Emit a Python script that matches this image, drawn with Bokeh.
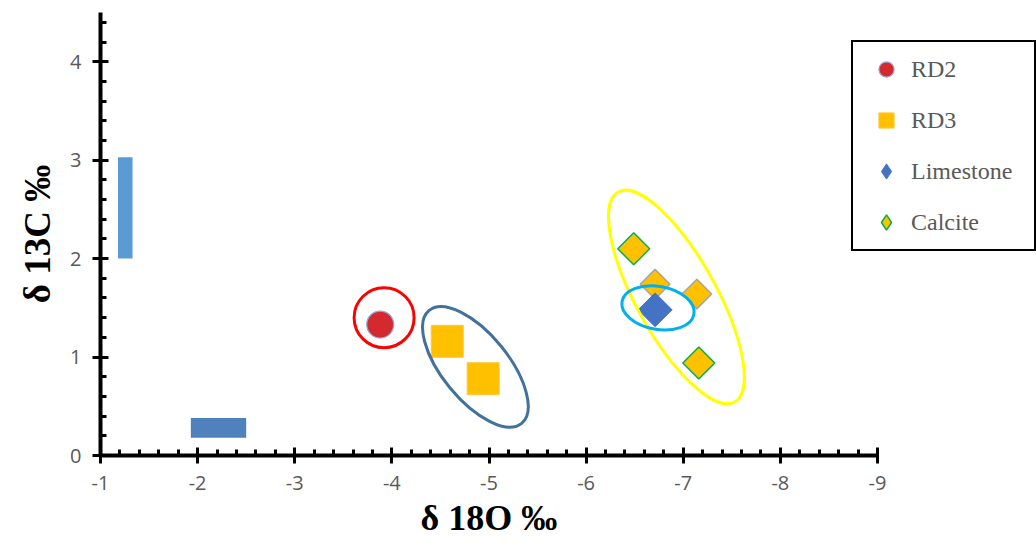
import math
from bokeh.plotting import figure
from bokeh.models import Range1d, FixedTicker, Legend, LegendItem, Title
from bokeh.embed import file_html
from bokeh.resources import INLINE

# ---------------- data ----------------
x_ticks = [-1, -2, -3, -4, -5, -6, -7, -8, -9]
x_tick_labels = ["-1", "-2", "-3", "-4", "-5", "-6", "-7", "-8", "-9"]
y_ticks = [0, 1, 2, 3, 4]
y_tick_labels = ["0", "1", "2", "3", "4"]
x_axis_min, x_axis_max = -1, -9
y_axis_min, y_axis_max = 0, 4.5

rd2_x = [-3.88]
rd2_y = [1.33]
rd3_x = [-4.57, -4.94]
rd3_y = [1.16, 0.78]
limestone_x = [-6.71]
limestone_y = [1.48]
calcite_x = [-6.49, -7.16]
calcite_y = [2.10, 0.94]
other_x = [-6.71, -7.14]
other_y = [1.74, 1.64]

# reference ranges (bars)
bar_left = [-1.18, -1.93]
bar_right = [-1.33, -2.50]
bar_bottom = [2.00, 0.18]
bar_top = [3.03, 0.38]

# group outlines (centres)
group_x = [-3.92, -4.86, -6.93, -6.74]
group_y = [1.40, 0.90, 1.61, 1.50]

series_names = ["RD2", "RD3", "Limestone", "Calcite"]

# ---------------- figure ----------------
W, H = 1036, 544
LEFT, TOP, BOTTOM = 100, 12, 89
axis_px = 777  # pixel length of the x axis from -1 to -9
px_per_unit = axis_px / abs(x_axis_max - x_axis_min)
x_view_end = x_axis_min - (W - LEFT) / px_per_unit   # frame extends under the legend

p = figure(width=W, height=H, output_backend="svg", toolbar_location=None,
           x_range=Range1d(x_axis_min, x_view_end), y_range=Range1d(y_axis_min, y_axis_max),
           min_border_left=LEFT, min_border_right=0, min_border_top=TOP, min_border_bottom=BOTTOM)
p.xgrid.visible = False
p.ygrid.visible = False
p.outline_line_color = None
p.background_fill_color = "white"
p.border_fill_color = "white"
p.xaxis.bounds = (x_axis_max, x_axis_min)


def minor_between(ticks):
    out = []
    for a, b in zip(ticks[:-1], ticks[1:]):
        for k in range(1, 5):
            out.append(round(a + (b - a) * k / 5, 4))
    return out


x_minor = minor_between(x_ticks)
y_minor = [v for v in minor_between(y_ticks + [5]) if v < y_axis_max]
p.xaxis.ticker = FixedTicker(ticks=x_ticks, minor_ticks=x_minor)
p.yaxis.ticker = FixedTicker(ticks=y_ticks, minor_ticks=y_minor)
p.xaxis.major_label_overrides = {t: s for t, s in zip(x_ticks, x_tick_labels)}
p.yaxis.major_label_overrides = {t: s for t, s in zip(y_ticks, y_tick_labels)}

for ax in (p.xaxis[0], p.yaxis[0]):
    ax.axis_line_width = 4
    ax.axis_line_color = "black"
    ax.major_tick_line_width = 3
    ax.major_tick_line_color = "black"
    ax.major_tick_in = 8
    ax.major_tick_out = 8
    ax.minor_tick_line_width = 3
    ax.minor_tick_line_color = "black"
    ax.minor_tick_in = 6
    ax.minor_tick_out = 0
    ax.major_label_text_font = "Open Sans"
    ax.major_label_text_font_size = "20px"
    ax.major_label_text_color = "#595959"
p.yaxis.major_label_standoff = 11
p.xaxis.major_label_standoff = 12

p.yaxis.axis_label = "δ 13C ‰"
p.yaxis.axis_label_text_font = "Liberation Serif"
p.yaxis.axis_label_text_font_style = "bold"
p.yaxis.axis_label_text_font_size = "37px"
p.yaxis.axis_label_text_color = "black"
p.yaxis.axis_label_standoff = 9

# bars
p.quad(left=bar_left, right=bar_right, bottom=bar_bottom, top=bar_top,
       fill_color=["#5B9BD5", "#4F81BD"], line_color=None)

# markers
r_rd2 = p.scatter(rd2_x, rd2_y, marker="circle", size=27,
                  fill_color="#D42A2F", line_color="#8FAADC", line_width=1.2)
r_rd3 = p.scatter(rd3_x, rd3_y, marker="square", size=32,
                  fill_color="#FFC000", line_color="#FFC83A", line_width=1)
p.scatter(other_x, other_y, marker="square", angle=math.pi / 4, size=21,
          fill_color="#FFC000", line_color="#A5A5A5", line_width=1.5)
r_cal = p.scatter(calcite_x, calcite_y, marker="square", angle=math.pi / 4, size=22.6,
                  fill_color="#FFC000", line_color="#00B050", line_width=1.5)
r_lim = p.scatter(limestone_x, limestone_y, marker="square", angle=math.pi / 4, size=24,
                  fill_color="#4472C4", line_color="#4472C4", line_width=1)

# legend-only keys (diamond shape for the legend, no points of their own)
key_lim = p.scatter([float("nan")], [float("nan")], marker="diamond", size=20,
                    fill_color="#4472C4", line_color="#4472C4", line_width=1)
key_cal = p.scatter([float("nan")], [float("nan")], marker="diamond", size=20,
                    fill_color="#FFC000", line_color="#00B050", line_width=1.5)

# group outlines
p.ellipse(x=group_x, y=group_y,
          width=[60, 146, 240, 73], height=[60, 66, 80, 43],
          angle=[0, math.radians(-50.7), math.radians(-61), math.radians(-10)],
          width_units="screen", height_units="screen",
          fill_color=None, line_color=["#FF0000", "#41719C", "#FFFF00", "#00B0F0"],
          line_width=3)

legend = Legend(items=[LegendItem(label=series_names[0], renderers=[r_rd2]),
                       LegendItem(label=series_names[1], renderers=[r_rd3]),
                       LegendItem(label=series_names[2], renderers=[key_lim]),
                       LegendItem(label=series_names[3], renderers=[key_cal])],
                location=(751, 204), orientation="vertical",
                glyph_width=50, glyph_height=38, label_standoff=0, spacing=13,
                padding=8, label_width=115, margin=0,
                label_text_font="Liberation Serif", label_text_font_size="24px",
                label_text_color="#595959",
                border_line_color="black", border_line_width=2, border_line_alpha=1,
                background_fill_color="white", background_fill_alpha=1)
p.add_layout(legend)

x_title = Title(text="δ 18O ‰", align="left", offset=320, standoff=7,
                text_font="Liberation Serif", text_font_style="bold",
                text_font_size="36px", text_color="black")
p.add_layout(x_title, "below")

open("out.html", "w").write(file_html(p, INLINE))
